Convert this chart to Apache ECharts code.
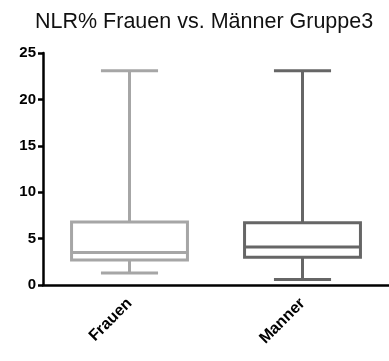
<!DOCTYPE html>
<html>
<head>
<meta charset="utf-8">
<script src="https://cdn.jsdelivr.net/npm/echarts@6/dist/echarts.min.js"></script>
<style>
  html, body { margin: 0; padding: 0; background: #fff; }
  #chart { width: 389px; height: 361px; }
</style>
</head>
<body>
<div id="chart"></div>
<script>
// Groups and their five-number summaries (min, Q1, median, Q3, max)
const categories = ['Frauen', 'Manner'];
const minValues = [1.3, 0.6];
const q1Values = [2.7, 3.0];
const medianValues = [3.5, 4.1];
const q3Values = [6.8, 6.7];
const maxValues = [23.1, 23.1];
const groupColors = ['#a6a6a6', '#666666'];
const yTicks = { min: 0, max: 25, interval: 5 };

const chart = echarts.init(document.getElementById('chart'));

const boxData = categories.map((c, i) => [i, minValues[i], q1Values[i], medianValues[i], q3Values[i], maxValues[i]]);

function renderBox(params, api) {
  const idx = api.value(0);
  const color = groupColors[idx];
  const lo = api.coord([idx, api.value(1)]);
  const q1 = api.coord([idx, api.value(2)]);
  const med = api.coord([idx, api.value(3)]);
  const q3 = api.coord([idx, api.value(4)]);
  const hi = api.coord([idx, api.value(5)]);
  const band = api.size([1, 0])[0];
  const half = band * 0.335;
  const capHalf = band * 0.165;
  const x = lo[0];
  const style = { stroke: color, lineWidth: 3, fill: null };
  return {
    type: 'group',
    children: [
      { type: 'line', shape: { x1: x, y1: hi[1], x2: x, y2: q3[1] }, style },
      { type: 'line', shape: { x1: x, y1: q1[1], x2: x, y2: lo[1] }, style },
      { type: 'line', shape: { x1: x - capHalf, y1: hi[1], x2: x + capHalf, y2: hi[1] }, style },
      { type: 'line', shape: { x1: x - capHalf, y1: lo[1], x2: x + capHalf, y2: lo[1] }, style },
      { type: 'rect', shape: { x: x - half, y: q3[1], width: half * 2, height: q1[1] - q3[1] }, style: { stroke: color, lineWidth: 3, fill: '#fff' } },
      { type: 'line', shape: { x1: x - half, y1: med[1], x2: x + half, y2: med[1] }, style }
    ]
  };
}

chart.setOption({
  animation: false,
  title: {
    text: 'NLR% Frauen vs. Männer Gruppe3',
    left: 30,
    top: 6,
    textStyle: { fontFamily: 'Liberation Sans, Arial, sans-serif', fontSize: 21.5, fontWeight: 'normal', color: '#111' }
  },
  grid: { left: 43, right: -5, top: 53, bottom: 76, containLabel: false },
  xAxis: {
    type: 'category',
    data: categories,
    boundaryGap: true,
    axisLine: { lineStyle: { color: '#000', width: 2.5 } },
    axisTick: { alignWithLabel: true, length: 5, lineStyle: { color: '#000', width: 2.5 } },
    axisLabel: {
      rotate: 45,
      margin: 16,
      fontFamily: 'Liberation Sans, Arial, sans-serif',
      fontWeight: 'bold',
      fontSize: 16,
      color: '#000'
    },
    splitLine: { show: false }
  },
  yAxis: {
    type: 'value',
    min: yTicks.min,
    max: yTicks.max,
    interval: yTicks.interval,
    axisLine: { show: true, lineStyle: { color: '#000', width: 2.5 } },
    axisTick: { show: true, length: 5, lineStyle: { color: '#000', width: 2.5 } },
    axisLabel: {
      margin: 7,
      fontFamily: 'Liberation Sans, Arial, sans-serif',
      fontWeight: 'bold',
      fontSize: 15,
      color: '#000'
    },
    splitLine: { show: false }
  },
  series: [{
    type: 'custom',
    renderItem: renderBox,
    encode: { x: 0, y: [1, 2, 3, 4, 5] },
    data: boxData,
    z: 1
  }]
});
</script>
</body>
</html>
